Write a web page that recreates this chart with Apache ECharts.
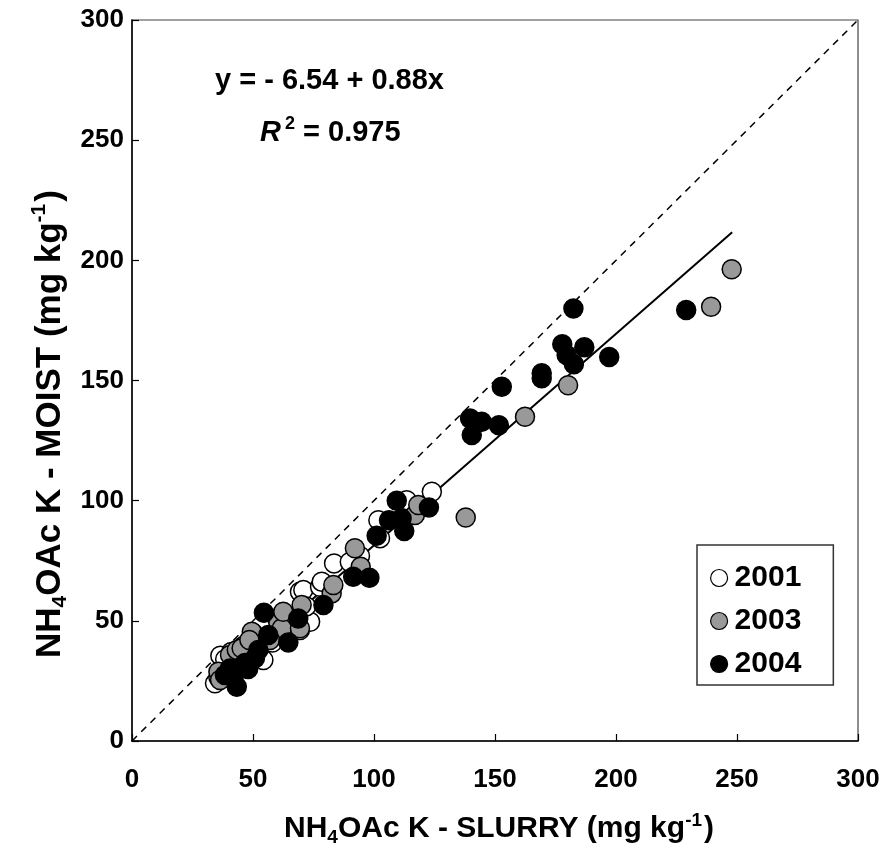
<!DOCTYPE html>
<html>
<head>
<meta charset="utf-8">
<script src="https://cdn.jsdelivr.net/npm/echarts@6/dist/echarts.min.js"></script>
<style>html,body{margin:0;padding:0;background:#fff}#c{width:890px;height:857px}</style>
</head>
<body>
<div id="c"></div>
<script>
// ---- data ----
const xTicks = [0, 50, 100, 150, 200, 250, 300];
const yTicks = [0, 50, 100, 150, 200, 250, 300];

const years = ['2001', '2003', '2004'];

const data2001 = [
  [34.3, 24.0], [35.7, 26.5], [36.5, 35.5], [38.5, 34.0], [41.0, 37.0], [44.0, 36.0],
  [47.0, 38.0], [50.0, 40.0], [54.3, 33.7], [55.0, 43.0], [58.0, 41.0], [62.0, 45.0],
  [66.0, 48.3], [69.4, 46.2], [69.4, 62.1], [70.8, 62.8], [73.6, 49.6], [77.7, 64.2],
  [78.4, 66.3], [83.5, 73.9], [94.2, 77.0], [90.0, 74.5], [102.5, 84.4], [101.8, 91.9],
  [113.5, 100.2], [123.9, 103.7], [60.0, 51.0], [72.0, 56.0]
];
const data2003 = [
  [35.7, 28.8], [36.4, 25.4], [40.5, 35.8], [43.3, 37.9], [46.0, 39.5], [45.3, 38.6],
  [50.1, 44.8], [49.5, 45.5], [60.5, 49.0], [61.9, 46.9], [62.5, 53.8], [70.1, 56.6],
  [69.4, 46.9], [82.5, 61.4], [83.2, 64.9], [92.1, 80.2], [94.5, 72.5], [116.9, 94.0],
  [118.3, 98.2], [137.9, 93.0], [162.4, 134.9], [180.2, 148.0], [239.3, 180.7],
  [247.8, 196.3], [57.0, 42.0], [48.5, 42.0]
];
const data2004 = [
  [43.3, 22.6], [38.4, 27.5], [40.5, 30.2], [42.6, 28.2], [46.7, 32.5], [50.8, 34.4],
  [52.2, 37.9], [54.5, 53.4], [56.3, 44.1], [64.6, 41.0], [68.7, 51.0], [79.1, 56.6],
  [91.4, 68.3], [98.1, 67.9], [101.1, 85.4], [106.2, 91.9], [109.4, 100.0], [111.4, 92.6],
  [112.5, 87.4], [122.7, 97.2], [139.7, 134.2], [140.4, 127.3], [144.5, 132.8],
  [151.6, 131.4], [152.8, 147.4], [169.3, 153.0], [169.3, 150.9], [177.8, 165.1],
  [179.6, 160.6], [182.4, 180.0], [182.6, 156.8], [186.9, 163.8], [197.2, 159.8],
  [229.0, 179.3], [48.0, 30.0]
];

const oneToOne = [[0, 0], [300, 300]];
const fitLine = [[36, 25.1], [248, 211.7]];

const equationText = 'y = - 6.54 + 0.88x';
const r2Value = '0.975';

// ---- chart ----
const chart = echarts.init(document.getElementById('c'), null, {renderer: 'canvas'});
const FONT = '"Liberation Sans", Arial, sans-serif';
const fills = {'2001': '#ffffff', '2003': '#999999', '2004': '#000000'};

function scatter(name, data) {
  return {
    name: name, type: 'scatter', data: data, symbol: 'circle', symbolSize: 19,
    itemStyle: {color: fills[name], borderColor: '#000', borderWidth: 1.5, opacity: 1},
    emphasis: {disabled: true}, z: 3
  };
}

chart.setOption({
  animation: false,
  backgroundColor: '#fff',
  textStyle: {fontFamily: FONT},
  grid: {left: 132, right: 32, top: 20, bottom: 116, show: true, borderColor: '#444', borderWidth: 1.2,
    containLabel: false, outerBoundsMode: 'none'},
  xAxis: {
    type: 'value', min: 0, max: 300, interval: 50,
    axisLine: {show: true, lineStyle: {color: '#000', width: 1.5}},
    axisTick: {show: true, inside: true, length: 7, lineStyle: {color: '#000', width: 1.2}},
    splitLine: {show: false},
    axisLabel: {margin: 26, fontSize: 26, fontWeight: 'bold', color: '#000', fontFamily: FONT,
      formatter: v => xTicks.includes(v) ? String(v) : ''},
    name: '{t|NH}{s|4}{t|OAc K - SLURRY (mg kg}{p|-1}{t|)}',
    nameLocation: 'middle', nameGap: 68,
    nameTextStyle: {
      padding: [0, 0, 0, 8],
      rich: {
        t: {fontSize: 30, fontWeight: 'bold', color: '#000', fontFamily: FONT, lineHeight: 40},
        s: {fontSize: 19, fontWeight: 'bold', color: '#000', fontFamily: FONT, verticalAlign: 'bottom', lineHeight: 40, padding: [0, 0, 2, 0]},
        p: {fontSize: 19, fontWeight: 'bold', color: '#000', fontFamily: FONT, verticalAlign: 'top', lineHeight: 40, padding: [2, 2, 0, 0]}
      }
    }
  },
  yAxis: {
    type: 'value', min: 0, max: 300, interval: 50,
    axisLine: {show: true, lineStyle: {color: '#000', width: 1.5}},
    axisTick: {show: true, inside: true, length: 7, lineStyle: {color: '#000', width: 1.2}},
    splitLine: {show: false},
    axisLabel: {margin: 8, fontSize: 26, fontWeight: 'bold', color: '#000', fontFamily: FONT,
      formatter: v => yTicks.includes(v) ? String(v) : ''}
  },
  legend: {
    data: years.map(y => ({name: y, icon: 'circle'})),
    orient: 'vertical', left: 697, top: 545,
    itemWidth: 17, itemHeight: 17, itemGap: 13,
    padding: [18, 32, 6, 13],
    borderColor: '#333', borderWidth: 1.5, backgroundColor: '#fff',
    textStyle: {fontSize: 30, fontWeight: 'bold', color: '#000', fontFamily: FONT, padding: [0, 0, 0, 2]},
    itemStyle: {borderColor: '#000', borderWidth: 1.2}
  },
  graphic: [
    {type: 'text', left: 215, top: 66, z: 10,
      style: {text: equationText, fontSize: 29, fontWeight: 'bold', fill: '#000', fontFamily: FONT}},
    {type: 'text', left: 260, top: 115, z: 10,
      style: {
        text: '{i|R}{p|2}{n| = ' + r2Value + '}',
        rich: {
          i: {fontSize: 29, fontWeight: 'bold', fontStyle: 'italic', fill: '#000', fontFamily: FONT, lineHeight: 36},
          p: {fontSize: 18, fontWeight: 'bold', fill: '#000', fontFamily: FONT, verticalAlign: 'top', lineHeight: 36, padding: [0, 0, 0, 4]},
          n: {fontSize: 29, fontWeight: 'bold', fill: '#000', fontFamily: FONT, lineHeight: 36}
        }
      }},
    {type: 'text', x: 50, y: 424, rotation: Math.PI / 2, z: 10,
      style: {
        text: '{t|NH}{s|4}{t|OAc K - MOIST (mg kg}{p|-1}{t|)}',
        align: 'center', verticalAlign: 'middle',
        rich: {
          t: {fontSize: 35, fontWeight: 'bold', fill: '#000', fontFamily: FONT, lineHeight: 46},
          s: {fontSize: 21, fontWeight: 'bold', fill: '#000', fontFamily: FONT, verticalAlign: 'bottom', lineHeight: 46, padding: [0, 0, 2, 0]},
          p: {fontSize: 21, fontWeight: 'bold', fill: '#000', fontFamily: FONT, verticalAlign: 'top', lineHeight: 46, padding: [2, 2, 0, 0]}
        }
      }}
  ],
  series: [
    {name: '1:1', type: 'line', data: oneToOne, symbol: 'none', silent: true, z: 1,
      lineStyle: {color: '#000', width: 1.5, type: [7, 6]}},
    {name: 'fit', type: 'line', data: fitLine, symbol: 'none', silent: true, z: 2,
      lineStyle: {color: '#000', width: 2}},
    scatter('2001', data2001),
    scatter('2003', data2003),
    scatter('2004', data2004)
  ]
});
</script>
</body>
</html>
